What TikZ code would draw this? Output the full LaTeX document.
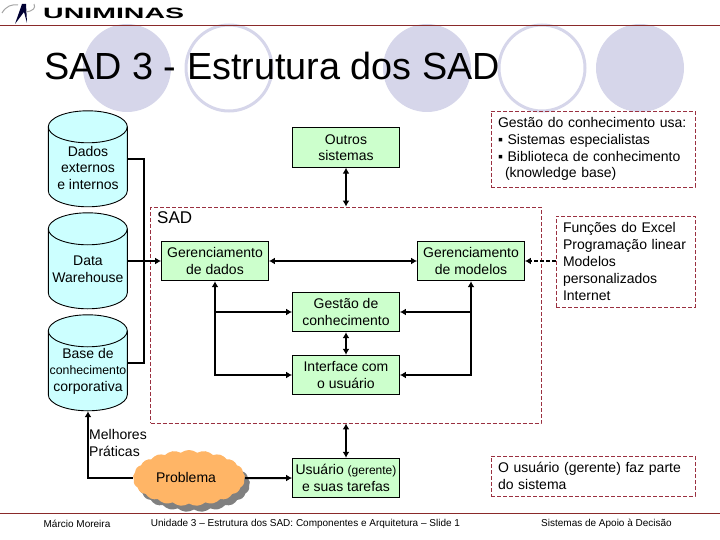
\documentclass[tikz,border=0pt]{standalone}
\usepackage{fontspec}
\setmainfont{Liberation Sans}
\usetikzlibrary{arrows.meta,shapes.symbols,shadows}
\definecolor{circulo}{HTML}{D6D6EA}
\definecolor{regua}{HTML}{8A2A2A}
\definecolor{tracejado}{HTML}{9A3040}
\definecolor{verde}{HTML}{CCFFCC}
\definecolor{ciano}{HTML}{CCFFFF}
\definecolor{laranja}{HTML}{FFB566}
\begin{document}
\begin{tikzpicture}
  [
    x=1pt, y=-1pt,
    % Estilos dos nos e das linhas
    caixa/.style={rectangle, draw, fill=verde, line width=0.9pt, minimum width=107pt, minimum height=39.5pt, inner sep=0pt, align=center, font=\fontsize{14}{16.5}\selectfont},
    banco/.style={rectangle, minimum width=79pt, minimum height=96pt, inner sep=0pt},
    rotulo/.style={inner sep=0pt, align=center, font=\fontsize{14}{16.5}\selectfont},
    nota/.style={rectangle, draw=tracejado, dash pattern=on 4pt off 2pt, line width=0.9pt, inner sep=0pt, align=left, font=\fontsize{14}{16.8}\selectfont},
    linha/.style={line width=2pt},
    seta/.style={linha, -{Latex[length=6pt,width=7pt]}},
    dupla/.style={linha, {Latex[length=6pt,width=7pt]}-{Latex[length=6pt,width=7pt]}},
    rodape/.style={font=\fontsize{10}{12}\selectfont, inner sep=0pt}
  ]
  \useasboundingbox (0,0) rectangle (720,540);

  % Fundo do slide
  \fill[circulo] (127,68) circle (44);
  \draw[circulo, line width=3pt] (229,68) circle (43);
  \fill[circulo] (427,68) circle (44);
  \draw[circulo, line width=3pt] (542,68) circle (43);
  \fill[circulo] (640,68) circle (44);
  \draw[regua, line width=1pt] (0,26) -- (720,26);
  \draw[regua, line width=1pt] (0,513) -- (720,513);

  % Logotipo
  \fill[black!80!blue] (15,24) -- (22,4) -- (26,4) -- (27,23) -- (24,12) -- cycle;
  \draw[black!35, line width=1pt] (2,13) .. controls (6,6) and (12,4) .. (18,5);
  \draw[black!35, line width=1pt] (26,12) .. controls (33,11) and (36,8) .. (34,4);
  \node[anchor=west, inner sep=0pt, font=\fontsize{15}{15}\selectfont\bfseries] (logo) at (43,13) {\scalebox{1.9}[1]{UNIMINAS}};

  \node[anchor=base west, inner sep=0pt, font=\fontsize{37.8}{40}\selectfont] (titulo) at (44,80) {SAD 3 - Estrutura dos SAD};

  % Caixas principais
  \node[nota, minimum width=390.5pt, minimum height=216pt] (sad) at (345.75,315) {};
  \node[anchor=west, inner sep=0pt, font=\fontsize{17}{20}\selectfont] (sadtxt) at (157,218) {SAD};
  \node[caixa] (outros) at (346,147.5) {Outros\\sistemas};
  \node[caixa] (gerdados) at (215,261) {Gerenciamento\\de dados};
  \node[caixa] (germodelos) at (471,261) {Gerenciamento\\de modelos};
  \node[caixa] (gestao) at (346,312) {Gestão de\\conhecimento};
  \node[caixa] (interface) at (346,375) {Interface com\\o usuário};
  \node[caixa] (usuario) at (346,478) {Usuário {\fontsize{12}{14}\selectfont(gerente)}\\e suas tarefas};

  % Bancos de dados
  \node[banco] (dados) at (88,159) {};
  \node[banco] (warehouse) at (88,261) {};
  \node[banco] (baseconh) at (88,363) {};
  \foreach \nome in {dados, warehouse, baseconh} {
    \draw[fill=ciano, line width=0.9pt] (\nome.north west) ++(0,16) arc[start angle=180, end angle=0, x radius=39.5pt, y radius=16pt]
      -- ++(0,64) arc[start angle=0, end angle=-180, x radius=39.5pt, y radius=16pt] -- cycle;
    \draw[line width=0.9pt] (\nome.north west) ++(0,16) arc[start angle=180, end angle=360, x radius=39.5pt, y radius=16pt];
  }
  \node[rotulo] (dadostxt) at (88,167.5) {Dados\\externos\\e internos};
  \node[rotulo] (warehousetxt) at (88,269.5) {Data\\Warehouse};
  \node[rotulo] (basetxt) at (88,371) {Base de\\{\fontsize{12.3}{16.5}\selectfont conhecimento}\\corporativa};

  \node[cloud, cloud puffs=21, cloud puff arc=75, aspect=1.9, fill=laranja, minimum width=112pt, minimum height=56pt, inner sep=0pt,
    drop shadow={shadow xshift=5pt, shadow yshift=-6pt, fill=black!50, opacity=1}] (problema) at (189,478) {};
  \node[inner sep=0pt, font=\fontsize{14}{16.5}\selectfont] (problematxt) at (186,477) {Problema};

  % Notas
  \node[nota, minimum width=204pt, minimum height=76pt, text width=190pt] (notagestao) at (593,149) {Gestão do conhecimento usa:\\▪ Sistemas especialistas\\▪ Biblioteca de conhecimento\\\hspace*{7pt}(knowledge base)};
  \node[nota, minimum width=139pt, minimum height=91pt, text width=125pt] (notafuncoes) at (625.5,261.5) {Funções do Excel\\Programação linear\\Modelos\\personalizados\\Internet};
  \node[nota, minimum width=204pt, minimum height=40pt, text width=190pt] (notausuario) at (593,476) {O usuário (gerente) faz parte\\do sistema};

  \node[anchor=west, inner sep=0pt, align=left, font=\fontsize{14}{17}\selectfont] (melhores) at (89,442.5) {Melhores\\Práticas};

  % Ligacoes
  \coordinate (barra) at (144,261);
  \draw[linha] (dados.east) -| (barra) |- (baseconh.east);
  \draw[seta] (warehouse.east) -- (gerdados.west);
  \draw[dupla] (outros.south) -- (outros.south |- sad.north);
  \draw[dupla] (gerdados.east) -- (germodelos.west);
  \draw[dupla] (gerdados.south) |- (interface.west);
  \draw[seta] (gerdados.south |- gestao.west) -- (gestao.west);
  \draw[dupla] (germodelos.south) |- (interface.east);
  \draw[seta] (germodelos.south |- gestao.east) -- (gestao.east);
  \draw[dupla] (gestao.south) -- (interface.north);
  \draw[dupla] (sad.south -| usuario.north) -- (usuario.north);
  \draw[seta] (problema.west) -| (baseconh.south);
  \draw[seta] (problema.east) -- (usuario.west);
  \draw[seta, dash pattern=on 4pt off 2pt] (notafuncoes.west |- germodelos.east) -- (germodelos.east);

  % Rodape
  \node[rodape] (autor) at (77,524) {Márcio Moreira};
  \node[rodape] (unidade) at (305.5,524) {Unidade 3 – Estrutura dos SAD: Componentes e Arquitetura – Slide 1};
  \node[rodape] (disciplina) at (606.5,524) {Sistemas de Apoio à Decisão};
\end{tikzpicture}
\end{document}
